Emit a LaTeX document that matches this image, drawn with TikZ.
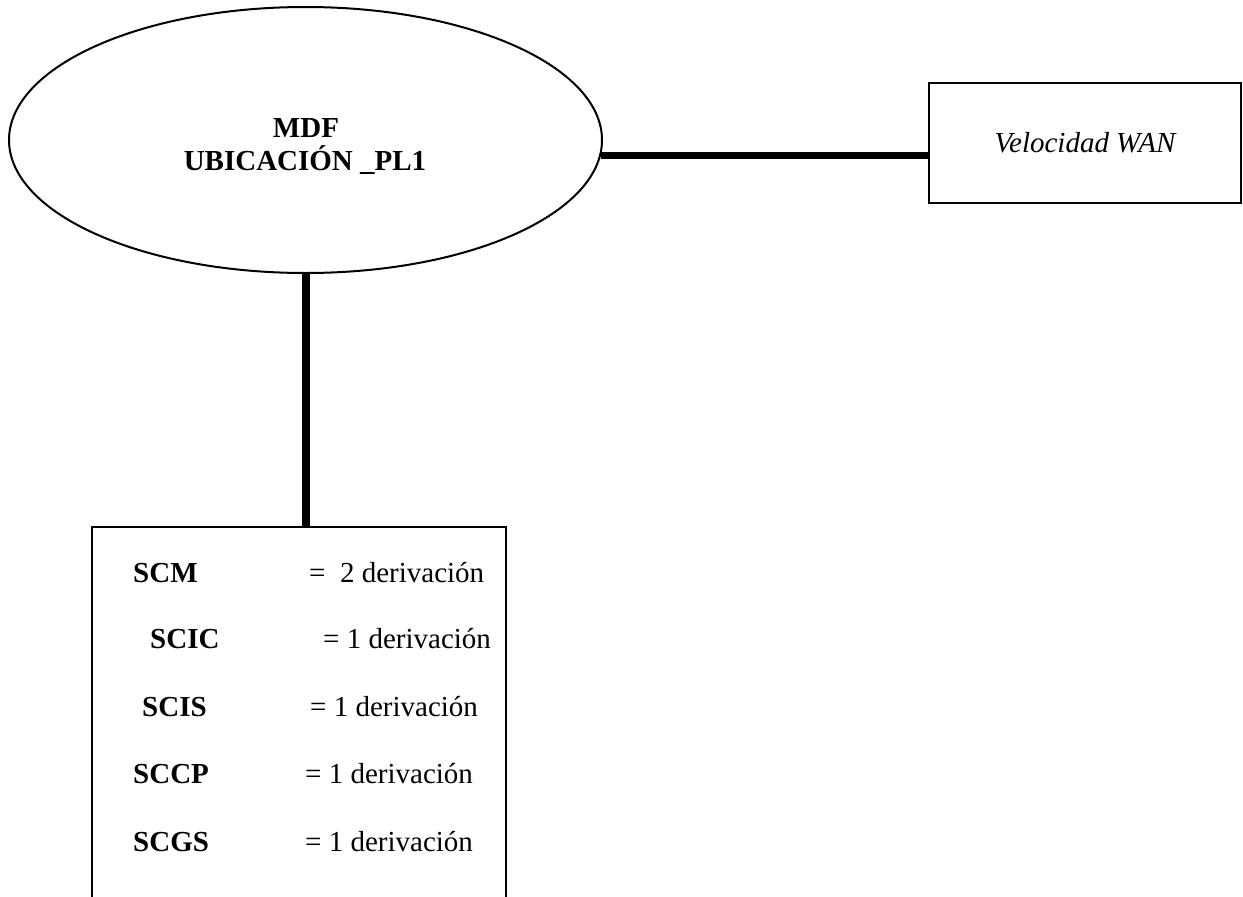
\documentclass[tikz,border=0pt]{standalone}
\usepackage{fontspec}
\setmainfont{Liberation Serif}
\usetikzlibrary{shapes.geometric}
\begin{document}
\begin{tikzpicture}[x=1pt,y=-1pt,
  plain/.style={inner sep=0pt, font=\fontsize{29}{33}\selectfont},
  boldtxt/.style={inner sep=0pt, font=\fontsize{29}{33}\selectfont\bfseries},
  itxt/.style={font=\fontsize{29}{33}\selectfont\itshape},
  frame/.style={draw, line width=2pt, inner sep=0pt},
  thick line/.style={line width=#1}]
\useasboundingbox (0,0) rectangle (1243,897);
\clip (0,0) rectangle (1243,897);
% main ellipse
\node[frame, ellipse, minimum width=593pt, minimum height=266pt] (ell) at (305.5,140) {};
\node[boldtxt, anchor=base] (mdf) at (306,137) {MDF};
\node[boldtxt, anchor=base] (ubi) at (305,170) {UBICACIÓN \_PL1};
% WAN box
\node[frame, itxt, minimum width=312pt, minimum height=120pt] (wan) at (1085,143) {Velocidad WAN};
% list box (open at the bottom)
\node[draw, line width=1.6pt, inner sep=0pt, minimum width=414pt, minimum height=420pt, anchor=north west] (list) at (91,526) {};
% connectors
\draw[thick line=7pt] (ell.-3) -- (ell.-3 -| wan.west);
\draw[thick line=8pt] (ell.south) -- (ell.south |- list.north);
% rows
\node[boldtxt, anchor=base west] (l1) at (133,582) {SCM};
\node[boldtxt, anchor=base west] (l2) at (150,648) {SCIC};
\node[boldtxt, anchor=base west] (l3) at (142,716) {SCIS};
\node[boldtxt, anchor=base west] (l4) at (133,783) {SCCP};
\node[boldtxt, anchor=base west] (l5) at (133,851) {SCGS};
\node[plain, anchor=base west] (v1) at (309,582) {= \ 2 derivación};
\node[plain, anchor=base west] (v2) at (323,648) {= 1 derivación};
\node[plain, anchor=base west] (v3) at (310,716) {= 1 derivación};
\node[plain, anchor=base west] (v4) at (305,783) {= 1 derivación};
\node[plain, anchor=base west] (v5) at (305,851) {= 1 derivación};
\end{tikzpicture}
\end{document}
